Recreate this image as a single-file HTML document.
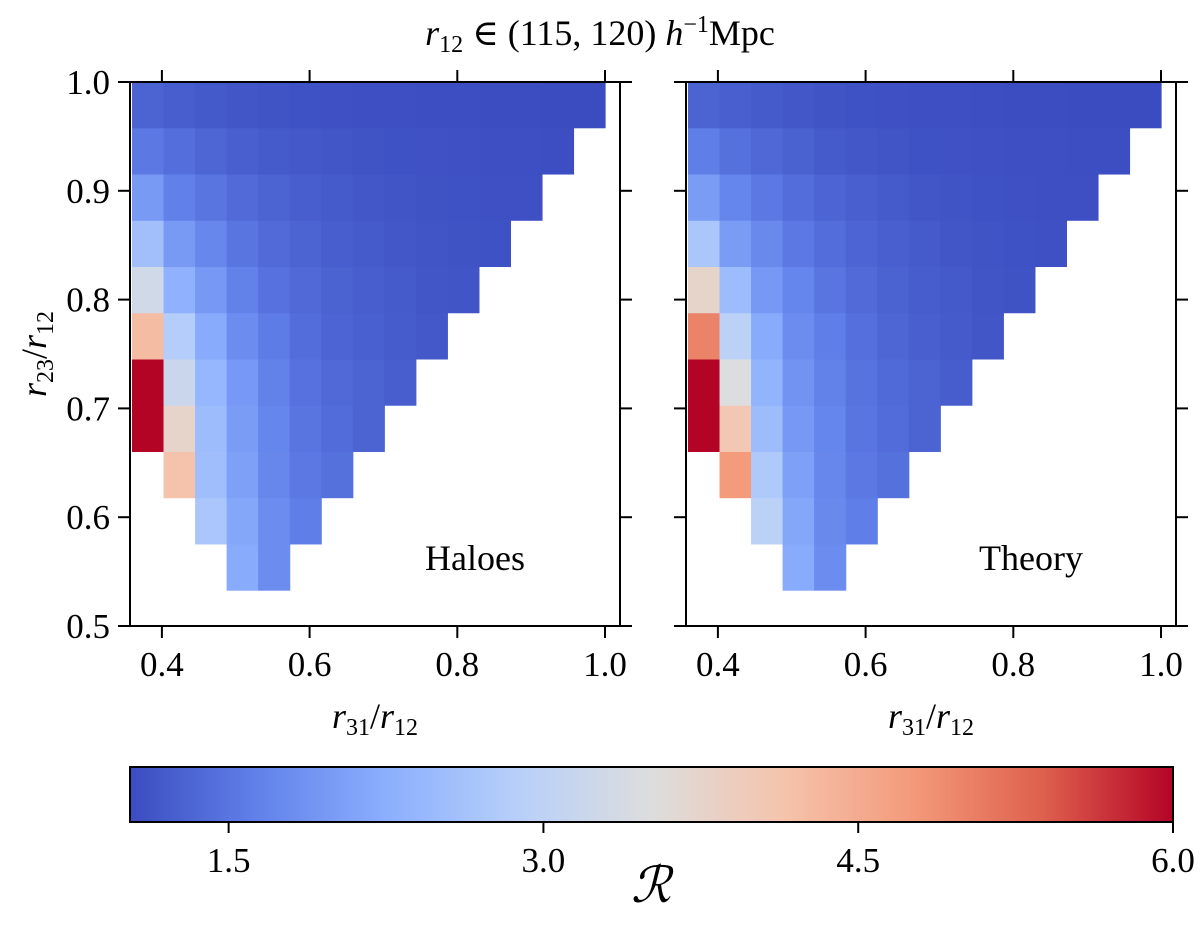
<!DOCTYPE html>
<html><head><meta charset="utf-8">
<style>
html,body{margin:0;padding:0;background:#fff;}
svg{display:block;font-family:"Liberation Serif","DejaVu Serif",serif;}
</style></head>
<body>
<svg id="fig" width="1200" height="926" viewBox="0 0 1200 926" xmlns="http://www.w3.org/2000/svg">
<defs>
<linearGradient id="cw" x1="0" x2="1" y1="0" y2="0">
<stop offset="0" stop-color="rgb(59,76,192)"/>
<stop offset="0.125" stop-color="rgb(98,130,234)"/>
<stop offset="0.25" stop-color="rgb(141,176,254)"/>
<stop offset="0.375" stop-color="rgb(184,208,249)"/>
<stop offset="0.5" stop-color="rgb(221,221,221)"/>
<stop offset="0.625" stop-color="rgb(245,196,173)"/>
<stop offset="0.75" stop-color="rgb(244,154,123)"/>
<stop offset="0.875" stop-color="rgb(222,96,77)"/>
<stop offset="1" stop-color="rgb(180,4,38)"/>
</linearGradient>
</defs>
<text x="600" y="45" font-size="36" text-anchor="middle"><tspan font-style="italic">r</tspan><tspan font-size="24" dy="7">12</tspan><tspan dy="-7"> ∈ (115, 120) </tspan><tspan font-style="italic">h</tspan><tspan font-size="24" dy="-13">−1</tspan><tspan dy="13">Mpc</tspan></text>
<g id="plots"></g>
</svg>
<script>
// colour scale limits
const vmin = 1.03, vmax = 6.0;
// bin geometry in data units
const xStart = 0.3595, binW = 0.0427;
const yStart = 0.533, binH = 0.0425;
const xTicks = [0.4, 0.6, 0.8, 1.0];
const xTickLabels = ["0.4", "0.6", "0.8", "1.0"];
const yTicks = [0.5, 0.6, 0.7, 0.8, 0.9, 1.0];
const yTickLabels = ["0.5", "0.6", "0.7", "0.8", "0.9", "1.0"];
const cbTicks = [1.5, 3.0, 4.5, 6.0];
const cbTickLabels = ["1.5", "3.0", "4.5", "6.0"];
const panelNames = ["Haloes", "Theory"];
// rows from bottom (j=0) to top (j=10); null = empty cell
const haloes = [
 [null,null,null,2.2,1.8],
 [null,null,2.7,2.15,1.8,1.6],
 [null,4.15,2.55,2.05,1.72,1.55,1.45],
 [6.5,3.75,2.5,2.0,1.7,1.5,1.4,1.3],
 [6.5,3.2,2.4,1.95,1.65,1.47,1.36,1.3,1.24],
 [4.25,2.83,2.2,1.8,1.58,1.42,1.32,1.26,1.21,1.17],
 [3.3,2.3,1.95,1.65,1.47,1.36,1.28,1.23,1.19,1.15,1.13],
 [2.57,1.97,1.72,1.5,1.38,1.3,1.24,1.2,1.16,1.13,1.11,1.1],
 [1.97,1.63,1.5,1.38,1.3,1.24,1.2,1.16,1.13,1.11,1.1,1.08,1.08],
 [1.55,1.43,1.33,1.25,1.2,1.17,1.14,1.12,1.1,1.09,1.08,1.07,1.06,1.05],
 [1.3,1.23,1.18,1.15,1.12,1.1,1.08,1.07,1.06,1.05,1.05,1.04,1.04,1.03,1.03]
];
const theory = [
 [null,null,null,2.2,1.8],
 [null,null,2.95,2.15,1.75,1.6],
 [null,4.75,2.75,2.05,1.72,1.55,1.45],
 [6.5,4.05,2.5,1.95,1.7,1.5,1.4,1.3],
 [6.5,3.5,2.35,1.88,1.65,1.48,1.37,1.3,1.22],
 [5.0,2.95,2.2,1.8,1.6,1.44,1.33,1.25,1.2,1.14],
 [3.75,2.5,1.95,1.7,1.5,1.38,1.28,1.22,1.18,1.13,1.11],
 [2.7,2.0,1.75,1.55,1.42,1.32,1.25,1.2,1.15,1.12,1.1,1.08],
 [2.0,1.7,1.55,1.42,1.32,1.25,1.2,1.15,1.12,1.1,1.08,1.07,1.06],
 [1.6,1.45,1.35,1.27,1.2,1.16,1.13,1.1,1.09,1.08,1.07,1.06,1.05,1.05],
 [1.3,1.25,1.2,1.16,1.12,1.1,1.08,1.07,1.06,1.05,1.04,1.04,1.03,1.03,1.03]
];
const panelData = [haloes, theory];

const stops = [[59,76,192],[98,130,234],[141,176,254],[184,208,249],[221,221,221],[245,196,173],[244,154,123],[222,96,77],[180,4,38]];
function cmap(v){
  let t = (v - vmin) / (vmax - vmin);
  t = Math.max(0, Math.min(1, t));
  const s = t * 8, i = Math.min(7, Math.floor(s)), f = s - i;
  const a = stops[i], b = stops[i+1];
  return `rgb(${a.map((c,k)=>Math.round(c+(b[k]-c)*f)).join(',')})`;
}
const NS = "http://www.w3.org/2000/svg";
const root = document.getElementById('plots');
function el(tag, attrs, parent){
  const e = document.createElementNS(NS, tag);
  for (const k in attrs) e.setAttribute(k, attrs[k]);
  (parent||root).appendChild(e);
  return e;
}
const axTop = 82, axBot = 626;
const yMin = 0.5, yMax = 1.0;
const xMin = 0.3568, xMax = 1.0203;
function yPix(v){ return axBot - (v - yMin) / (yMax - yMin) * (axBot - axTop); }

[130, 686].forEach((left, p) => {
  const right = left + 490;
  const xPix = v => left + (v - xMin) / (xMax - xMin) * (right - left);
  const g = el('g', {});
  
  
  const data = panelData[p];
  data.forEach((row, j) => {
    row.forEach((v, i) => {
      if (v === null) return;
      const x0 = xPix(xStart + i*binW), x1 = xPix(xStart + (i+1)*binW);
      const y0 = Math.max(axTop, yPix(yStart + (j+1)*binH)), y1 = yPix(yStart + j*binH);
      const r = el('rect', {x:x0, y:y0, width:x1-x0+0.6, height:y1-y0+0.6, fill:cmap(v)}, g);
      
      
    });
  });
  const frame = el('rect', {x:left, y:axTop, width:right-left, height:axBot-axTop, fill:'none', stroke:'#000', 'stroke-width':2}, g);
  
  
  xTicks.forEach((t, k) => {
    const x = xPix(t);
    el('line', {x1:x, x2:x, y1:axBot, y2:axBot+12, stroke:'#000', 'stroke-width':2}, g);
    el('line', {x1:x, x2:x, y1:axTop, y2:axTop-12, stroke:'#000', 'stroke-width':2}, g);
    const tl = el('text', {x:x, y:axBot+50, 'font-size':35, 'text-anchor':'middle'}, g);
    tl.textContent = xTickLabels[k];
    
    
  });
  yTicks.forEach((t, k) => {
    const y = yPix(t);
    el('line', {x1:left, x2:left-12, y1:y, y2:y, stroke:'#000', 'stroke-width':2}, g);
    el('line', {x1:right, x2:right+12, y1:y, y2:y, stroke:'#000', 'stroke-width':2}, g);
    if (p === 0) {
      const tl = el('text', {x:left-20, y:y+12, 'font-size':35, 'text-anchor':'end'}, g);
      tl.textContent = yTickLabels[k];
      
      
    }
  });
  const lab = el('text', {x:left+345, y:570, 'font-size':36, 'text-anchor':'middle'}, g);
  lab.textContent = panelNames[p];
  
  
  const xl = el('text', {x:left+245, y:728, 'font-size':36, 'text-anchor':'middle'}, g);
  xl.innerHTML = '<tspan font-style="italic">r</tspan><tspan font-size="24" dy="7">31</tspan><tspan dy="-7">/</tspan><tspan font-style="italic">r</tspan><tspan font-size="24" dy="7">12</tspan>';
  
  
});
// y label
const yl = el('text', {x:0, y:0, 'font-size':36, 'text-anchor':'middle', transform:'translate(46,354) rotate(-90)'});
yl.innerHTML = '<tspan font-style="italic">r</tspan><tspan font-size="24" dy="7">23</tspan><tspan dy="-7">/</tspan><tspan font-style="italic">r</tspan><tspan font-size="24" dy="7">12</tspan>';


// colorbar
const cbL = 130, cbR = 1173, cbT = 767, cbB = 822;
const cb = el('g', {});


el('rect', {x:cbL, y:cbT, width:cbR-cbL, height:cbB-cbT, fill:'url(#cw)', stroke:'#000', 'stroke-width':2}, cb);
const cbPix = v => cbL + (v - vmin) / (vmax - vmin) * (cbR - cbL);
cbTicks.forEach((t, k) => {
  const x = cbPix(t);
  el('line', {x1:x, x2:x, y1:cbB, y2:cbB+11, stroke:'#000', 'stroke-width':2}, cb);
  const tl = el('text', {x:x, y:cbB+50, 'font-size':35, 'text-anchor':'middle'}, cb);
  tl.textContent = cbTickLabels[k];
  
  
});
const cl = el('text', {x:651, y:902, 'font-size':50, 'text-anchor':'middle', 'font-style':'italic'});
cl.textContent = 'ℛ';


</script>
</body></html>
